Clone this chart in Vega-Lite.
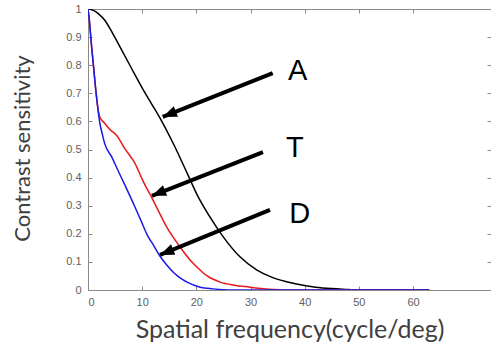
{
  "$schema": "https://vega.github.io/schema/vega-lite/v6.json",
  "width": 403,
  "height": 281,
  "autosize": {"type": "none"},
  "padding": {"left": 88, "top": 9, "right": 0, "bottom": 62},
  "background": "white",
  "config": {
    "view": {"stroke": "#8a8a8a", "strokeWidth": 1},
    "axis": {
      "domain": false,
      "grid": false,
      "tickColor": "#8a8a8a",
      "tickSize": -4,
      "labelFont": "Liberation Sans",
      "labelFontSize": 11,
      "labelColor": "#606060",
      "titleFont": "Lato",
      "titleFontWeight": "normal",
      "titleColor": "#404040",
      "titleFontSize": 20
    }
  },
  "resolve": {"axis": {"x": "independent", "y": "independent"}},
  "layer": [
    {
      "data": {
        "values": [
          {"curve": "A", "f": 0, "s": 1},
          {"curve": "A", "f": 1, "s": 0.995},
          {"curve": "A", "f": 2, "s": 0.982},
          {"curve": "A", "f": 3.1, "s": 0.96},
          {"curve": "A", "f": 4.5, "s": 0.915},
          {"curve": "A", "f": 6, "s": 0.862},
          {"curve": "A", "f": 8, "s": 0.79},
          {"curve": "A", "f": 10.5, "s": 0.702},
          {"curve": "A", "f": 13.3, "s": 0.612},
          {"curve": "A", "f": 15.7, "s": 0.523},
          {"curve": "A", "f": 18.3, "s": 0.416},
          {"curve": "A", "f": 20.3, "s": 0.333},
          {"curve": "A", "f": 22.5, "s": 0.26},
          {"curve": "A", "f": 24.9, "s": 0.191},
          {"curve": "A", "f": 28, "s": 0.119},
          {"curve": "A", "f": 31.2, "s": 0.071},
          {"curve": "A", "f": 34, "s": 0.045},
          {"curve": "A", "f": 36.5, "s": 0.03},
          {"curve": "A", "f": 38.5, "s": 0.021},
          {"curve": "A", "f": 42, "s": 0.01},
          {"curve": "A", "f": 45, "s": 0.005},
          {"curve": "A", "f": 48, "s": 0.002},
          {"curve": "A", "f": 50, "s": 0},
          {"curve": "A", "f": 63, "s": 0},
          {"curve": "T", "f": 0, "s": 1},
          {"curve": "T", "f": 0.3, "s": 0.95},
          {"curve": "T", "f": 0.6, "s": 0.88},
          {"curve": "T", "f": 1, "s": 0.8},
          {"curve": "T", "f": 1.5, "s": 0.7},
          {"curve": "T", "f": 1.8, "s": 0.65},
          {"curve": "T", "f": 2.2, "s": 0.615},
          {"curve": "T", "f": 3, "s": 0.595},
          {"curve": "T", "f": 4.1, "s": 0.57},
          {"curve": "T", "f": 5.3, "s": 0.55},
          {"curve": "T", "f": 6.8, "s": 0.503},
          {"curve": "T", "f": 8.7, "s": 0.45},
          {"curve": "T", "f": 10.1, "s": 0.39},
          {"curve": "T", "f": 12, "s": 0.32},
          {"curve": "T", "f": 13.3, "s": 0.27},
          {"curve": "T", "f": 14.6, "s": 0.222},
          {"curve": "T", "f": 17, "s": 0.153},
          {"curve": "T", "f": 18.8, "s": 0.108},
          {"curve": "T", "f": 20.1, "s": 0.082},
          {"curve": "T", "f": 22, "s": 0.05},
          {"curve": "T", "f": 24.4, "s": 0.028},
          {"curve": "T", "f": 27, "s": 0.017},
          {"curve": "T", "f": 29.9, "s": 0.01},
          {"curve": "T", "f": 32, "s": 0.005},
          {"curve": "T", "f": 34, "s": 0.002},
          {"curve": "T", "f": 36, "s": 0},
          {"curve": "T", "f": 63, "s": 0},
          {"curve": "D", "f": 0, "s": 1},
          {"curve": "D", "f": 0.3, "s": 0.95},
          {"curve": "D", "f": 0.6, "s": 0.88},
          {"curve": "D", "f": 1, "s": 0.8},
          {"curve": "D", "f": 1.5, "s": 0.7},
          {"curve": "D", "f": 1.8, "s": 0.65},
          {"curve": "D", "f": 2.2, "s": 0.592},
          {"curve": "D", "f": 2.6, "s": 0.558},
          {"curve": "D", "f": 3.1, "s": 0.52},
          {"curve": "D", "f": 4.4, "s": 0.473},
          {"curve": "D", "f": 5.5, "s": 0.427},
          {"curve": "D", "f": 6.8, "s": 0.374},
          {"curve": "D", "f": 8.1, "s": 0.32},
          {"curve": "D", "f": 9.6, "s": 0.255},
          {"curve": "D", "f": 11.1, "s": 0.19},
          {"curve": "D", "f": 12, "s": 0.162},
          {"curve": "D", "f": 13.3, "s": 0.12},
          {"curve": "D", "f": 14.5, "s": 0.09},
          {"curve": "D", "f": 15.7, "s": 0.064},
          {"curve": "D", "f": 17, "s": 0.043},
          {"curve": "D", "f": 18.3, "s": 0.028},
          {"curve": "D", "f": 20.7, "s": 0.01},
          {"curve": "D", "f": 23.1, "s": 0.004},
          {"curve": "D", "f": 25, "s": 0.001},
          {"curve": "D", "f": 27, "s": 0},
          {"curve": "D", "f": 63, "s": 0}
        ]
      },
      "mark": {"type": "line", "strokeWidth": 1.5, "interpolate": "monotone", "clip": true},
      "encoding": {
        "x": {
          "field": "f", "type": "quantitative",
          "scale": {"domain": [0, 74.4], "nice": false, "zero": false},
          "axis": {
            "orient": "bottom",
            "values": [0, 10, 20, 30, 40, 50, 60],
            "labelPadding": 10,
            "title": "Spatial frequency(cycle/deg)",
            "titleFontSize": 25,
            "titlePadding": 10
          }
        },
        "y": {
          "field": "s", "type": "quantitative",
          "scale": {"domain": [0, 1], "nice": false},
          "axis": {
            "orient": "left",
            "values": [0, 0.1, 0.2, 0.3, 0.4, 0.5, 0.6, 0.7, 0.8, 0.9, 1],
            "format": "~g",
            "labelPadding": 11,
            "title": "Contrast sensitivity",
            "titleFontSize": 22,
            "titleX": -66,
            "titleY": 139,
            "titleAngle": -90,
            "titleBaseline": "middle"
          }
        },
        "color": {
          "field": "curve", "type": "nominal",
          "scale": {"domain": ["A", "T", "D"], "range": ["#000000", "#e8191c", "#1a1ae6"]},
          "legend": null
        }
      }
    },
    {
      "data": {
        "values": [
          {"label": "A", "xs": 34.1, "ys": 0.772, "xe": 13.8, "ye": 0.616},
          {"label": "T", "xs": 32.3, "ys": 0.491, "xe": 11.8, "ye": 0.335},
          {"label": "D", "xs": 33.6, "ys": 0.285, "xe": 13.3, "ye": 0.125}
        ]
      },
      "layer": [
        {
          "mark": {"type": "rule", "strokeWidth": 4, "color": "#000000"},
          "encoding": {
            "x": {"field": "xs", "type": "quantitative", "scale": {"domain": [0, 74.4], "nice": false, "zero": false}, "axis": null},
            "y": {"field": "ys", "type": "quantitative", "scale": {"domain": [0, 1], "nice": false}, "axis": null},
            "x2": {"field": "xe"},
            "y2": {"field": "ye"}
          }
        },
        {
          "mark": {"type": "point", "shape": "M0,0 L-0.8,2 L0.8,2 Z", "filled": true, "color": "#000000", "opacity": 1, "size": 200, "angle": 248},
          "encoding": {
            "x": {"field": "xe", "type": "quantitative", "scale": {"domain": [0, 74.4], "nice": false, "zero": false}, "axis": null},
            "y": {"field": "ye", "type": "quantitative", "scale": {"domain": [0, 1], "nice": false}, "axis": null}
          }
        }
      ]
    },
    {
      "data": {
        "values": [
          {"label": "A", "lx": 38.7, "ly": 0.747},
          {"label": "T", "lx": 38.2, "ly": 0.473},
          {"label": "D", "lx": 39.1, "ly": 0.238}
        ]
      },
      "mark": {"type": "text", "font": "Liberation Sans", "fontSize": 29, "color": "#000000", "align": "center", "baseline": "alphabetic"},
      "encoding": {
        "x": {
          "field": "lx", "type": "quantitative",
          "scale": {"domain": [0, 74.4], "nice": false, "zero": false},
          "axis": {"orient": "top", "values": [0, 10, 20, 30, 40, 50, 60], "labels": false, "title": null}
        },
        "y": {
          "field": "ly", "type": "quantitative",
          "scale": {"domain": [0, 1], "nice": false},
          "axis": {"orient": "right", "values": [0, 0.1, 0.2, 0.3, 0.4, 0.5, 0.6, 0.7, 0.8, 0.9, 1], "labels": false, "title": null}
        },
        "text": {"field": "label"}
      }
    }
  ]
}
